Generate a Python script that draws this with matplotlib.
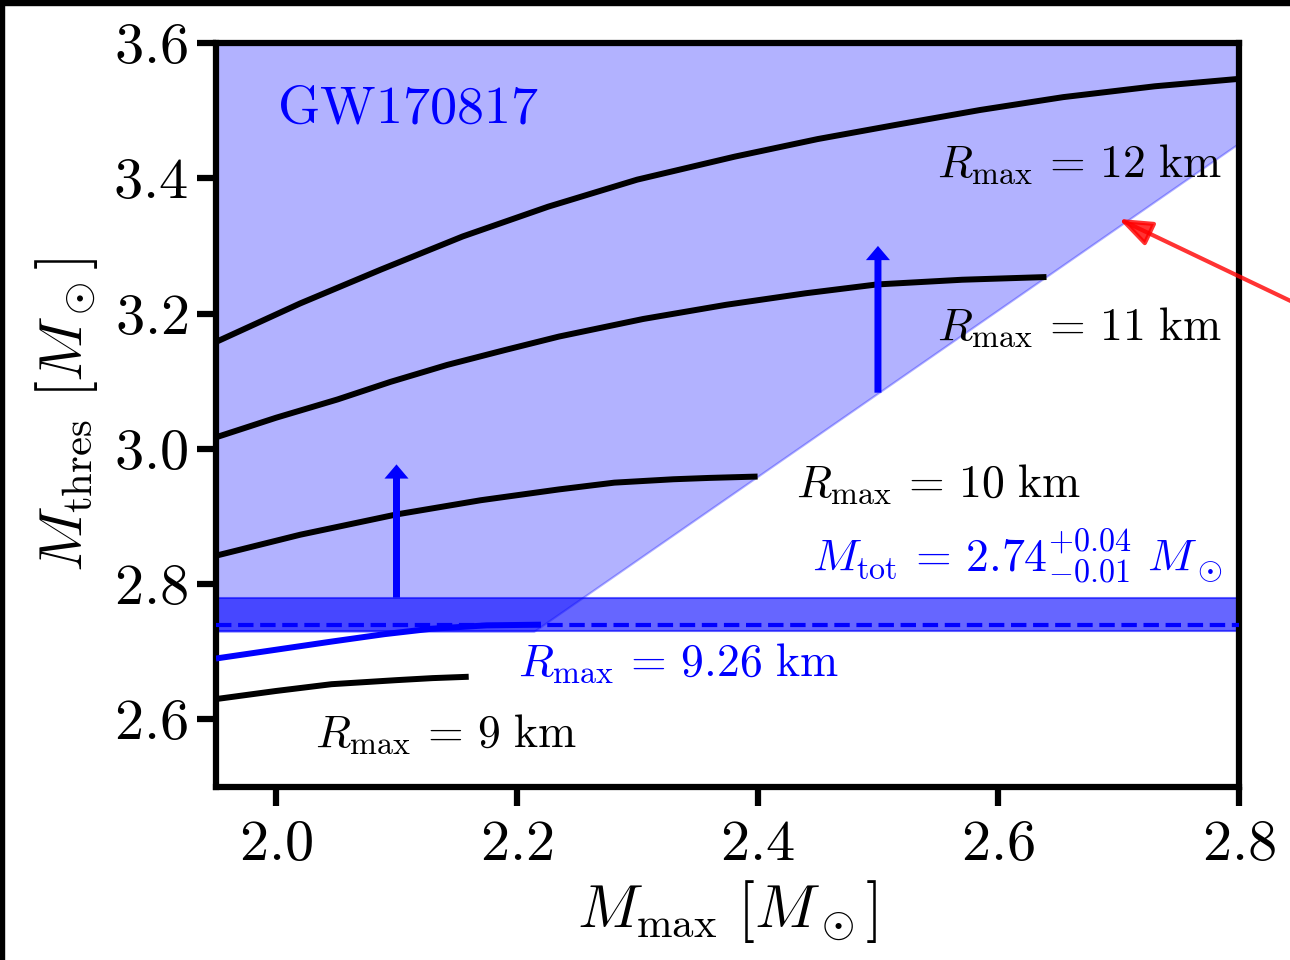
import numpy as np
import matplotlib
matplotlib.use("Agg")
import matplotlib.pyplot as plt
from matplotlib.patches import Rectangle

plt.rcParams['mathtext.fontset'] = 'cm'
plt.rcParams['font.family'] = 'serif'
plt.rcParams['font.serif'] = ['cmr10', 'DejaVu Serif']
plt.rcParams['axes.unicode_minus'] = False

# threshold curves, one per R_max
x12 = [1.95, 2.02, 2.087, 2.155, 2.226, 2.30, 2.381, 2.45, 2.515, 2.585, 2.654, 2.73, 2.80]
y12 = [3.158, 3.215, 3.265, 3.314, 3.358, 3.398, 3.432, 3.458, 3.479, 3.501, 3.520, 3.536, 3.547]
x11 = [1.95, 2.00, 2.051, 2.095, 2.142, 2.19, 2.235, 2.305, 2.374, 2.44, 2.499, 2.57, 2.640]
y11 = [3.017, 3.046, 3.073, 3.099, 3.124, 3.146, 3.166, 3.192, 3.213, 3.230, 3.243, 3.250, 3.254]
x10 = [1.95, 2.02, 2.100, 2.17, 2.235, 2.281, 2.330, 2.36, 2.400]
y10 = [2.842, 2.873, 2.903, 2.924, 2.940, 2.950, 2.955, 2.957, 2.959]
x9 = [1.95, 2.00, 2.046, 2.100, 2.13, 2.160]
y9 = [2.630, 2.642, 2.652, 2.658, 2.661, 2.663]
x926 = [1.95, 2.00, 2.046, 2.09, 2.129, 2.175, 2.220]
y926 = [2.690, 2.703, 2.715, 2.726, 2.734, 2.739, 2.740]

# excluded region (above the band / above the end-point line)
fill_x = [1.95, 2.214, 2.80]
fill_lo = [2.73, 2.73, 3.452]
fill_hi = 3.6

m_tot = 2.74
m_lo, m_hi = 2.73, 2.78

arrow_x = [2.1, 2.5]
arrow_y0 = [2.78, 3.083]
arrow_y1 = [2.977, 3.300]

xticks = [2.0, 2.2, 2.4, 2.6, 2.8]
yticks = [2.6, 2.8, 3.0, 3.2, 3.4, 3.6]

fig = plt.figure(figsize=(12.9, 9.6), dpi=100)
ax = fig.add_axes([0.1674, 0.1802, 0.7931, 0.7750])

ax.fill_between(fill_x, fill_lo, fill_hi, color='blue', alpha=0.3, lw=1.5, zorder=1)
ax.axhspan(m_lo, m_hi, color='blue', alpha=0.6, lw=1.5, zorder=2)
ax.axhline(m_tot, color='blue', ls='--', lw=3, zorder=3)

for xs, ys in [(x12, y12), (x11, y11), (x10, y10), (x9, y9)]:
    ax.plot(xs, ys, color='k', lw=4.3, zorder=4, solid_capstyle='butt')
ax.plot(x926, y926, color='blue', lw=4.3, zorder=4, solid_capstyle='butt')

for xa, ya0, ya1 in zip(arrow_x, arrow_y0, arrow_y1):
    ax.arrow(xa, ya0, 0, ya1 - ya0, width=0.0058, head_width=0.020,
             head_length=0.021, length_includes_head=True, color='blue',
             lw=0, zorder=5)

ax.annotate('', xy=(2.70, 3.340), xytext=(2.90, 3.170),
            arrowprops=dict(arrowstyle='-|>,head_length=0.45,head_width=0.17',
                            color='red', alpha=0.8, lw=3, mutation_scale=45,
                            shrinkA=0, shrinkB=0),
            annotation_clip=False, zorder=6)

fs = 33
ax.text(2.001, 3.482, r'$\mathrm{GW170817}$', color='blue', fontsize=39)
ax.text(2.786, 3.402, r'$R_{\rm max}\,=\,12\ {\rm km}$', fontsize=fs, ha='right')
ax.text(2.786, 3.161, r'$R_{\rm max}\,=\,11\ {\rm km}$', fontsize=fs, ha='right')
ax.text(2.432, 2.929, r'$R_{\rm max}\,=\,10\ {\rm km}$', fontsize=fs)
ax.text(2.786, 2.819, r'$M_{\rm tot}\,=\,2.74^{+0.04}_{-0.01}\ M_\odot$',
        fontsize=fs, ha='right', color='blue')
ax.text(2.201, 2.664, r'$R_{\rm max}\,=\,9.26\ {\rm km}$', fontsize=fs, color='blue')
ax.text(2.032, 2.559, r'$R_{\rm max}\,=\,9\ {\rm km}$', fontsize=fs)

ax.set_xlim(1.95, 2.8)
ax.set_ylim(2.5, 3.6)
ax.set_xticks(xticks)
ax.set_xticklabels([r'$%.1f$' % v for v in xticks])
ax.set_yticks(yticks)
ax.set_yticklabels([r'$%.1f$' % v for v in yticks])
ax.tick_params(axis='both', which='major', labelsize=42, length=14, width=4.5)
ax.tick_params(axis='x', pad=10)
ax.tick_params(axis='y', pad=6)
for s in ax.spines.values():
    s.set_linewidth(4.5)

ax.set_xlabel(r'$M_{\rm max}\ [M_\odot]$', fontsize=44)
ax.set_ylabel(r'$M_{\rm thres}\ [M_\odot]$', fontsize=44)
ax.xaxis.set_label_coords(0.5, -0.122)
ax.yaxis.set_label_coords(-0.113, 0.5)

# dark edges of the screenshot (top and left)
fig.patches.append(Rectangle((0, 1 - 5 / 960), 1, 5 / 960, transform=fig.transFigure,
                             color='black', zorder=10))
fig.patches.append(Rectangle((0, 0), 4 / 1290, 1, transform=fig.transFigure,
                             color='black', zorder=10))

fig.savefig('out.png', dpi=100)
